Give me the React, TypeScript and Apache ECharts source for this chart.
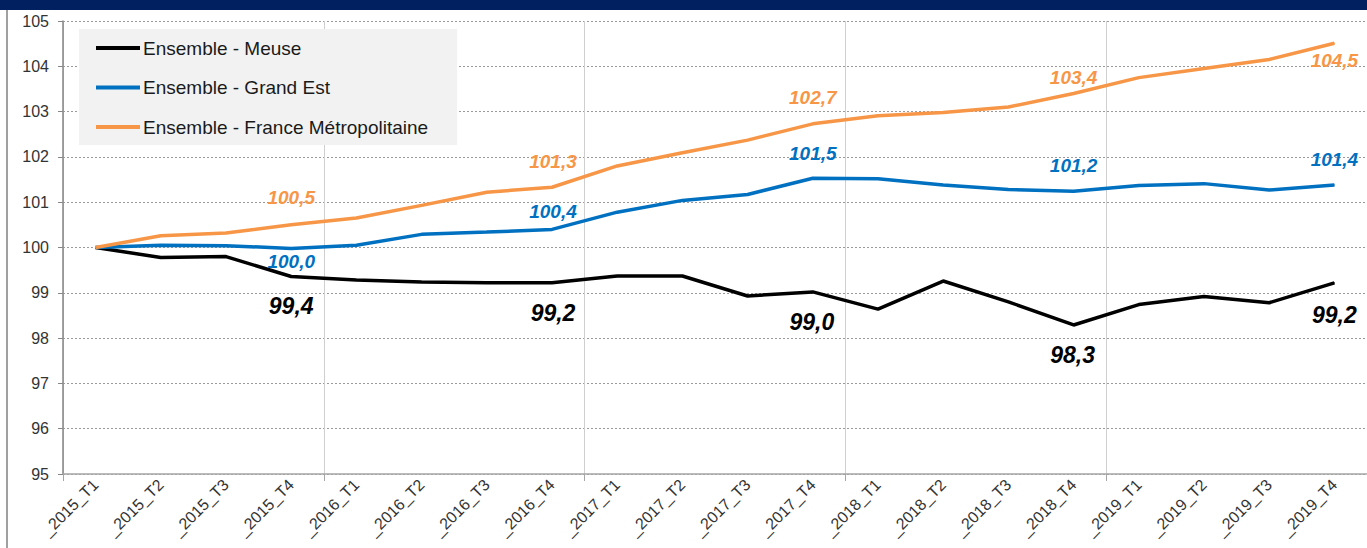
import React, { useEffect, useRef } from "react";
import * as echarts from "echarts";

const categories = [
  "_2015_T1", "_2015_T2", "_2015_T3", "_2015_T4",
  "_2016_T1", "_2016_T2", "_2016_T3", "_2016_T4",
  "_2017_T1", "_2017_T2", "_2017_T3", "_2017_T4",
  "_2018_T1", "_2018_T2", "_2018_T3", "_2018_T4",
  "_2019_T1", "_2019_T2", "_2019_T3", "_2019_T4",
];

const meuse = [100.0, 99.78, 99.8, 99.36, 99.28, 99.24, 99.22, 99.22, 99.37, 99.37, 98.93, 99.02, 98.64, 99.26, 98.8, 98.29, 98.74, 98.92, 98.78, 99.22];
const grandEst = [100.0, 100.05, 100.04, 99.98, 100.05, 100.29, 100.34, 100.4, 100.78, 101.04, 101.17, 101.53, 101.52, 101.38, 101.28, 101.24, 101.37, 101.41, 101.27, 101.38];
const france = [100.0, 100.26, 100.32, 100.5, 100.65, 100.93, 101.22, 101.33, 101.8, 102.09, 102.37, 102.73, 102.91, 102.98, 103.1, 103.4, 103.75, 103.95, 104.15, 104.51];

const seriesNames = ["Ensemble - Meuse", "Ensemble - Grand Est", "Ensemble - France Métropolitaine"];
const labelledIndices = [3, 7, 11, 15, 19];

// label offsets (style) per labelled point
const meuseOffsets = [[0, 30], [1, 30], [-1, 30], [-1, 30], [0, 32]];
const grandEstOffsets = [[0, 13], [1, -18], [0, -25], [0, -26], [0, -25]];
const franceOffsets = [[0, -27], [1, -26], [0, -26], [0, -16], [0, 17]];

const fmt = (v: number) => v.toFixed(1).replace(".", ",");

function buildData(values: number[], offsets: number[][], color: string, size: number) {
  return values.map((v, i) => {
    const k = labelledIndices.indexOf(i);
    if (k < 0) return v;
    return {
      value: v,
      label: {
        show: true,
        position: "inside",
        offset: offsets[k],
        formatter: fmt(v),
        color,
        fontSize: size,
        fontWeight: "bold",
        fontStyle: "italic",
        fontFamily: "Liberation Sans",
      },
    };
  });
}

export default function App() {
  const ref = useRef<HTMLDivElement>(null);
  useEffect(() => {
    if (!ref.current) return;
    const chart = echarts.init(ref.current, null, { renderer: "svg" });
    const colors = ["#000000", "#0070C0", "#F79646"];
    const mk = (name: string, data: any, color: string) => ({
      name,
      type: "line",
      data,
      symbol: "circle",
      symbolSize: 1,
      itemStyle: { color },
      lineStyle: { color, width: 3.5 },
      label: { show: false },
      emphasis: { disabled: true },
      z: 3,
    });
    chart.setOption({
      animation: false,
      backgroundColor: "#ffffff",
      textStyle: { fontFamily: "Liberation Sans" },
      graphic: [
        { type: "rect", shape: { x: 0, y: 0, width: 1367, height: 10 }, style: { fill: "#002060" }, z: 10 },
        { type: "line", shape: { x1: 7, y1: 10, x2: 7, y2: 548 }, style: { stroke: "#808080", lineWidth: 1.5 }, z: 10 },
      ],
      legend: {
        left: 79,
        top: 29,
        orient: "vertical",
        backgroundColor: "#f2f2f2",
        padding: [9, 29, 8, 17],
        itemGap: 19.5,
        itemWidth: 44,
        itemHeight: 14,
        selectedMode: false,
        data: seriesNames.map((n, i) => ({ name: n, icon: "path://M0,0 L44,0 L44,4 L0,4 Z", itemStyle: { color: colors[i] } })),
        textStyle: { fontSize: 19, color: "#1a1a1a", fontFamily: "Liberation Sans", lineHeight: 20, padding: [0, 0, 0, -2] },
      },
      grid: { left: 63, top: 21, width: 1306, height: 453, containLabel: false },
      xAxis: {
        type: "category",
        data: categories,
        boundaryGap: true,
        axisLine: { lineStyle: { color: "#a6a6a6", width: 1.5 } },
        axisTick: { show: true, interval: (i: number) => i % 4 === 0, length: 7, lineStyle: { color: "#a6a6a6" } },
        splitLine: { show: true, interval: (i: number) => i % 4 === 0, lineStyle: { color: "#cfcfcf", width: 1 } },
        axisLabel: { interval: 0, rotate: 45, fontSize: 16, color: "#333333", margin: 8, fontFamily: "Liberation Sans" },
      },
      yAxis: {
        type: "value",
        min: 95,
        max: 105,
        interval: 1,
        axisLine: { show: true, lineStyle: { color: "#868686", width: 1.5 } },
        axisTick: { show: true, length: 5, lineStyle: { color: "#868686" } },
        splitLine: { show: true, lineStyle: { color: "#9a9a9a", type: [2, 2], width: 1 } },
        axisLabel: { fontSize: 16, color: "#333333", margin: 14, fontFamily: "Liberation Sans" },
      },
      series: [
        mk(seriesNames[0], buildData(meuse, meuseOffsets, "#000000", 23), colors[0]),
        mk(seriesNames[1], buildData(grandEst, grandEstOffsets, "#0070C0", 19), colors[1]),
        mk(seriesNames[2], buildData(france, franceOffsets, "#F79646", 19), colors[2]),
      ],
    });
    return () => chart.dispose();
  }, []);
  return (
    <div
      ref={ref}
      style={{ position: "absolute", left: 0, top: 0, width: 1367, height: 548, background: "#fff" }}
    />
  );
}
